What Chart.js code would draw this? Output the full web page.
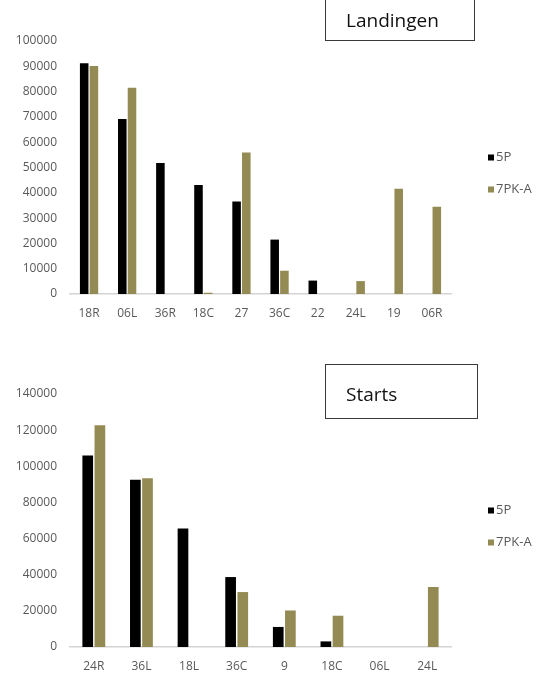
<!DOCTYPE html>
<html>
<head>
<meta charset="utf-8">
<script src="https://cdn.jsdelivr.net/npm/chart.js@4"></script>
<style>
    html, body { margin: 0; padding: 0; background: #fff; }
    body { width: 549px; height: 675px; position: relative; overflow: hidden; font-family: 'Open Sans', sans-serif; }
    canvas { position: absolute; left: 0; }
    .title-box {
        position: absolute;
        left: 325px;
        width: 150px;
        border: 1.5px solid #3a3a3a;
        box-sizing: border-box;
        font-size: 19px;
        color: #111;
        padding-left: 20px;
    }
</style>
</head>
<body>
<canvas id="landingen" width="549" height="330" style="top:0"></canvas>
<canvas id="starts" width="549" height="335" style="top:340px"></canvas>
<div class="title-box" style="top:-3px;height:44px;line-height:38px;padding-top:3px">Landingen</div>
<div class="title-box" style="top:364px;height:55px;line-height:58px;width:153px">Starts</div>
<script>
const seriesNames = ['5P', '7PK-A'];
const seriesColors = ['#000000', '#948A54'];

const landingCats = ['18R', '06L', '36R', '18C', '27', '36C', '22', '24L', '19', '06R'];
const landing5P = [91200, 69200, 51800, 43100, 36600, 21500, 5300, null, null, null];
const landing7PKA = [90100, 81500, null, 500, 55900, 9200, null, 5100, 41600, 34500];

const startCats = ['24R', '36L', '18L', '36C', '9', '18C', '06L', '24L'];
const start5P = [105900, 92500, 65600, 38700, 11100, 3100, null, null];
const start7PKA = [122700, 93400, null, 30400, 20200, 17300, null, 33200];

Chart.defaults.font.family = "'Open Sans', sans-serif";
Chart.defaults.color = '#595959';

// legend drawn next to the plot area, like the spreadsheet one
const sideLegend = {
    id: 'sideLegend',
    afterDraw(chart) {
        const {ctx, chartArea} = chart;
        const mid = (chartArea.top + chartArea.bottom) / 2;
        const x = chartArea.right + 37;
        ctx.save();
        ctx.font = "13px 'Open Sans'";
        ctx.textBaseline = 'middle';
        chart.data.datasets.forEach((ds, i) => {
            const y = mid - 10 + i * 32;
            ctx.fillStyle = ds.backgroundColor;
            ctx.fillRect(x, y - 3, 6, 6);
            ctx.fillStyle = '#595959';
            ctx.fillText(ds.label, x + 8, y);
        });
        ctx.restore();
    }
};

function barChart(id, labels, a, b, max, step, padTop, axisHeight) {
    const ctx = document.getElementById(id).getContext('2d');
    return new Chart(ctx, {
        type: 'bar',
        data: {
            labels: labels,
            datasets: [a, b].map((data, i) => ({
                label: seriesNames[i],
                data: data,
                backgroundColor: seriesColors[i],
                borderWidth: 0,
                categoryPercentage: 0.51,
                barPercentage: 0.88
            }))
        },
        options: {
            responsive: false,
            animation: false,
            layout: { padding: { top: padTop, right: 98, left: 0, bottom: 0 } },
            plugins: {
                legend: { display: false },
                tooltip: { enabled: false }
            },
            scales: {
                x: {
                    grid: { display: false, drawTicks: false },
                    border: { display: true, color: '#d4d4d4', width: 1.5 },
                    ticks: { font: { size: 12 }, padding: 12, maxRotation: 0 },
                    afterFit: s => { s.height = axisHeight; }
                },
                y: {
                    min: 0,
                    max: max,
                    grid: { display: false, drawTicks: false },
                    border: { display: false },
                    ticks: { stepSize: step, font: { size: 12 }, padding: 13, callback: v => String(v) },
                    afterFit: s => { s.width = 70; }
                }
            }
        },
        plugins: [sideLegend]
    });
}

barChart('landingen', landingCats, landing5P, landing7PKA, 100000, 10000, 41, 36);
barChart('starts', startCats, start5P, start7PKA, 140000, 20000, 54, 28);
</script>
</body>
</html>
